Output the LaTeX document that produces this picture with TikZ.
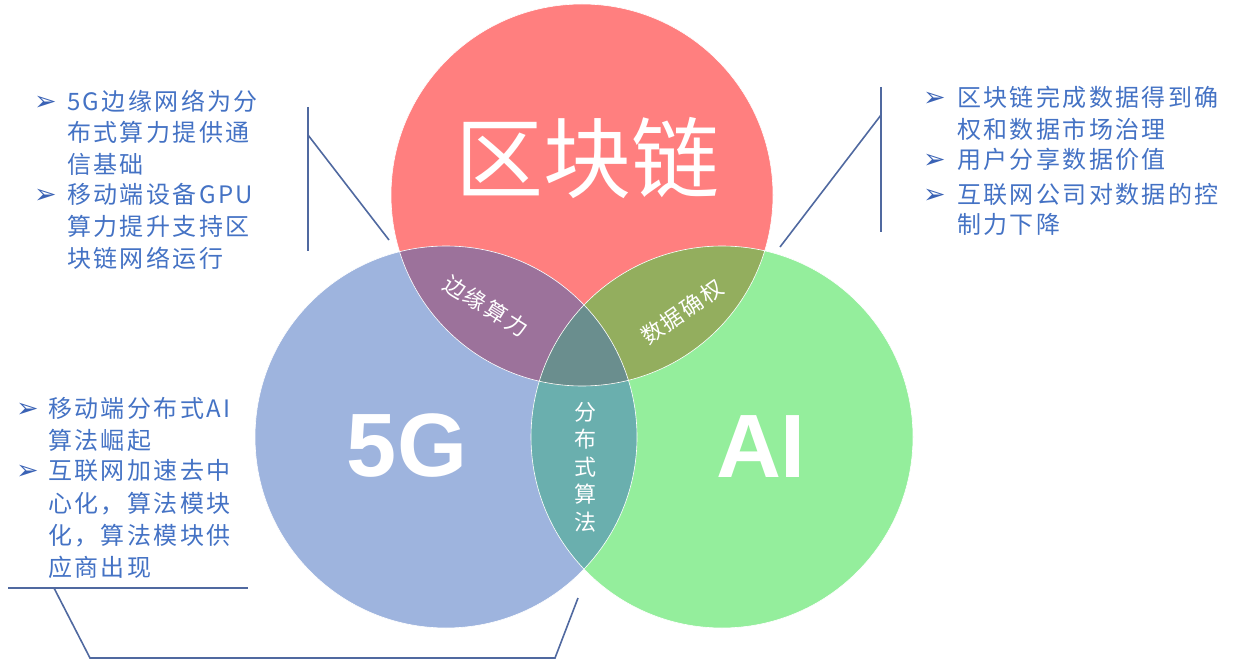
\documentclass[tikz,border=0pt]{standalone}
\usepackage{fontspec}
\newfontfamily\cjk[LetterSpace=10]{Noto Sans CJK SC}
\newfontfamily\cjkplain{Noto Sans CJK SC}
\newfontfamily\dejavu{DejaVu Sans}
\newfontfamily\latinb[Scale=1]{Liberation Sans}
\definecolor{cred}{RGB}{255,127,127}
\definecolor{cblue}{RGB}{158,180,222}
\definecolor{cgreen}{RGB}{148,238,156}
\definecolor{crb}{RGB}{156,114,155}
\definecolor{crg}{RGB}{147,174,94}
\definecolor{cbg}{RGB}{106,175,174}
\definecolor{call}{RGB}{106,142,142}
\definecolor{txtblue}{RGB}{68,114,196}
\definecolor{bulblue}{RGB}{58,98,181}
\definecolor{linec}{RGB}{80,105,160}
\tikzset{
  txt/.style={anchor=base west, inner sep=0pt, text=txtblue, font=\cjk\fontsize{24pt}{28pt}\selectfont},
  bul/.style={anchor=base west, inner sep=0pt, text=bulblue, font=\dejavu\bfseries\fontsize{27pt}{30pt}\selectfont},
  lens/.style={inner sep=0pt, text=white, font=\cjk\fontsize{22pt}{26pt}\selectfont},
  big/.style={inner sep=0pt, text=white},
  brk/.style={draw=linec, line width=1.6pt},
}
\begin{document}
\begin{tikzpicture}[x=1pt,y=-1pt]
\useasboundingbox (0,0) rectangle (1233,660);
\coordinate (R) at (582,195);
\coordinate (B) at (446,437);
\coordinate (G) at (722,437);
\def\rad{191pt}
% circles
\fill[cred] (R) circle (\rad);
\fill[cblue] (B) circle (\rad);
\fill[cgreen] (G) circle (\rad);
\begin{scope}
  \clip (B) circle (\rad);
  \fill[cbg] (G) circle (\rad);
\end{scope}
\begin{scope}
  \clip (R) circle (\rad);
  \fill[crb] (B) circle (\rad);
  \fill[crg] (G) circle (\rad);
  \clip (B) circle (\rad);
  \fill[call] (G) circle (\rad);
\end{scope}
\draw[white, line width=0.6pt] (R) circle (\rad) (B) circle (\rad) (G) circle (\rad);
% big labels
\node[big, font=\cjkplain\fontsize{88pt}{90pt}\selectfont] (tR) at (587,158) {区块链};
\node[big, font=\latinb\bfseries\fontsize{90pt}{92pt}\selectfont] (tB) at (407,446) {5G};
\node[big, font=\latinb\bfseries\fontsize{90pt}{92pt}\selectfont] (tG) at (761,447) {AI};
% lens labels
\node[lens, rotate=-32] (lRB) at (486,306) {边缘算力};
\node[lens, rotate=35] (lRG) at (682,312) {数据确权};
\node[lens, align=center, font=\cjk\fontsize{22pt}{27.5pt}\selectfont] (lBG) at (585,467) {分\\布\\式\\算\\法};
% top-left text
\node[bul] (b1) at (34,111) {➢};
\node[txt] (t1a) at (67,111) {5G边缘网络为分};
\node[txt] (t1b) at (67,142) {布式算力提供通};
\node[txt] (t1c) at (67,174) {信基础};
\node[bul] (b2) at (34,204) {➢};
\node[txt] (t2a) at (67,204) {移动端设备GPU};
\node[txt] (t2b) at (67,236) {算力提升支持区};
\node[txt] (t2c) at (67,267) {块链网络运行};
% top-right text
\node[bul] (b3) at (923,107) {➢};
\node[txt] (t3a) at (957,107) {区块链完成数据得到确};
\node[txt] (t3b) at (957,139) {权和数据市场治理};
\node[bul] (b4) at (923,169) {➢};
\node[txt] (t4a) at (957,169) {用户分享数据价值};
\node[bul] (b5) at (923,204) {➢};
\node[txt] (t5a) at (957,204) {互联网公司对数据的控};
\node[txt] (t5b) at (957,234) {制力下降};
% bottom-left text
\node[bul] (b6) at (16,417) {➢};
\node[txt] (t6a) at (48,417) {移动端分布式AI};
\node[txt] (t6b) at (48,449) {算法崛起};
\node[bul] (b7) at (16,479) {➢};
\node[txt] (t7a) at (48,479) {互联网加速去中};
\node[txt] (t7b) at (48,512) {心化，算法模块};
\node[txt] (t7c) at (48,544) {化，算法模块供};
\node[txt] (t7d) at (48,576) {应商出现};
% brackets
\coordinate (a1) at (308,107);
\coordinate (a2) at (308,251);
\coordinate (a3) at (308,135);
\coordinate (a4) at (389,240);
\draw[brk] (a1) -- (a2);
\draw[brk] (a3) -- (a4);
\coordinate (c1) at (881,87);
\coordinate (c2) at (881,232);
\coordinate (c3) at (881,115);
\coordinate (c4) at (780,247);
\draw[brk] (c1) -- (c2);
\draw[brk] (c3) -- (c4);
\coordinate (d1) at (8,588);
\coordinate (d2) at (248,588);
\coordinate (d3) at (54,588);
\coordinate (d4) at (90,658);
\coordinate (d5) at (555,658);
\coordinate (d6) at (578,598);
\draw[draw=linec, line width=2.4pt] (d1) -- (d2);
\draw[brk] (d3) -- (d4) -- (d5) -- (d6);
\end{tikzpicture}
\end{document}
